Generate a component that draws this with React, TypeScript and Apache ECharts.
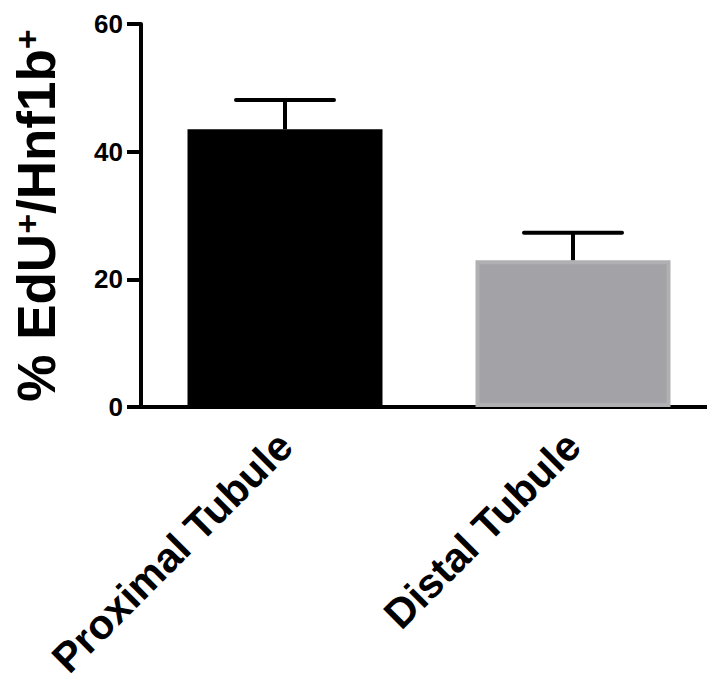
import React, { useEffect, useRef } from "react";
import * as echarts from "echarts";

const categories = ["Proximal Tubule", "Distal Tubule"];
const means = [43.5, 23.0];
const upperErrors = [48.1, 27.3];
const yTicks = [0, 20, 40, 60];

const FONT = "'Liberation Sans', Arial, Helvetica, sans-serif";

export default function App() {
  const ref = useRef<HTMLDivElement>(null);
  useEffect(() => {
    document.body.style.margin = "0";
    const chart = echarts.init(ref.current!, null, { renderer: "svg" });
    const option: any = {
      animation: false,
      backgroundColor: "#ffffff",
      grid: {
        left: 141,
        top: 24,
        width: 576,
        height: 383,
        containLabel: false,
        outerBoundsMode: "none",
      },
      xAxis: {
        type: "category",
        data: categories,
        boundaryGap: true,
        axisLine: { lineStyle: { color: "#000", width: 4 } },
        axisTick: { alignWithLabel: true, length: 15, lineStyle: { color: "#000", width: 4 } },
        axisLabel: {
          rotate: 45,
          interval: 0,
          margin: 32,
          color: "#000",
          fontSize: 41.5,
          fontWeight: "bold",
          fontFamily: FONT,
        },
        splitLine: { show: false },
      },
      yAxis: {
        type: "value",
        min: yTicks[0],
        max: yTicks[yTicks.length - 1],
        interval: 20,
        name: "{m|% EdU}{s|+}{m|/Hnf1b}{s|+}",
        nameLocation: "middle",
        nameRotate: 90,
        nameGap: 78,
        nameTextStyle: {
          rich: {
            m: { fontSize: 53, fontWeight: "bold", fontFamily: FONT, color: "#000" },
            s: {
              fontSize: 34,
              lineHeight: 22,
              fontWeight: "bold",
              fontFamily: FONT,
              color: "#000",
              verticalAlign: "top",
            },
          },
        },
        axisLine: { show: true, lineStyle: { color: "#000", width: 4 } },
        axisTick: { show: true, length: 14, lineStyle: { color: "#000", width: 4 } },
        axisLabel: {
          margin: 18,
          color: "#000",
          fontSize: 26,
          fontWeight: "bold",
          fontFamily: FONT,
        },
        splitLine: { show: false },
      },
      series: [
        {
          type: "bar",
          barWidth: 195,
          data: means.map((v, i) => ({
            value: v,
            itemStyle:
              i === 0
                ? { color: "#000000", borderColor: "#000000", borderWidth: 2 }
                : { color: "#a3a3a7", borderColor: "#b0b0b2", borderWidth: 4 },
          })),
          z: 2,
        },
        {
          type: "custom",
          z: 3,
          data: categories.map((_, i) => [i, means[i], upperErrors[i]]),
          renderItem: (params: any, api: any) => {
            const x = api.value(0);
            const v = api.value(1);
            const hi = api.value(2);
            const p0 = api.coord([x, v]);
            const p1 = api.coord([x, hi]);
            const half = 49;
            return {
              type: "group",
              children: [
                {
                  type: "line",
                  shape: { x1: p0[0], y1: p0[1], x2: p1[0], y2: p1[1] },
                  style: { stroke: "#000", lineWidth: 4 },
                },
                {
                  type: "line",
                  shape: { x1: p1[0] - half, y1: p1[1], x2: p1[0] + half, y2: p1[1] },
                  style: { stroke: "#000", lineWidth: 4, lineCap: "round" },
                },
              ],
            };
          },
        },
      ],
    };
    chart.setOption(option);
    return () => chart.dispose();
  }, []);
  return <div ref={ref} style={{ width: 707, height: 682 }} />;
}
